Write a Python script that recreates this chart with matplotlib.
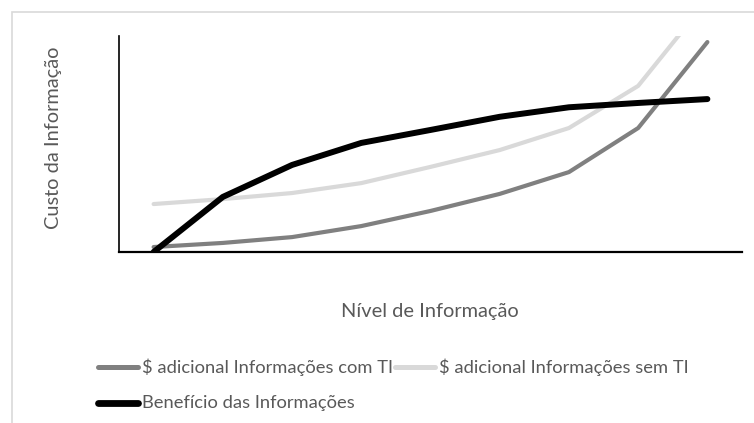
import matplotlib
matplotlib.use("Agg")
import matplotlib.pyplot as plt
from matplotlib.patches import Rectangle
from matplotlib.lines import Line2D

# Information level steps (category axis) and the three curves
levels = ["1", "2", "3", "4", "5", "6", "7", "8", "9"]
custo_com_ti = [0.23, 0.42, 0.69, 1.2, 1.9, 2.69, 3.7, 5.74, 9.72]
custo_sem_ti = [2.22, 2.45, 2.73, 3.19, 3.94, 4.72, 5.74, 7.69, 11.67]
beneficio = [0.0, 2.55, 4.03, 5.05, 5.65, 6.26, 6.7, 6.9, 7.08]

labels = ["$ adicional Informações com TI",
          "$ adicional Informações sem TI",
          "Benefício das Informações"]
colors = ["#808080", "#d9d9d9", "#000000"]
widths = [3.0, 3.0, 4.3]

plt.rcParams["font.family"] = ["Lato", "DejaVu Sans"]
text_color = "#595959"

W, H = 754, 423
fig = plt.figure(figsize=(W / 100, H / 100), dpi=100)


def fx(px):
    return px / W


def fy(py):
    return 1 - py / H


# light frame around the chart area
fig.patches.append(Rectangle((fx(12), -0.1), 1.2, fy(12) + 0.1,
                             transform=fig.transFigure, fill=False,
                             edgecolor="#d9d9d9", linewidth=1.2))

ax = fig.add_axes([fx(119), fy(252), fx(742 - 119), (252 - 36) / H])
x = list(range(len(levels)))

series = [custo_com_ti, custo_sem_ti, beneficio]
for vals, c, lw in zip(series, colors, widths):
    ax.plot(x, vals, color=c, lw=lw,
            solid_capstyle="round", solid_joinstyle="round")

ax.set_xlim(-0.5, len(levels) - 0.5)
ax.set_ylim(0, 10)
ax.set_xticks([])
ax.set_yticks([])
for side in ("top", "right"):
    ax.spines[side].set_visible(False)
ax.spines["left"].set_color("black")
ax.spines["bottom"].set_color("black")
ax.spines["left"].set_linewidth(1.2)
ax.spines["bottom"].set_linewidth(1.6)

fig.text(fx(54), fy(138), "Custo da Informação", rotation=90,
         ha="center", va="center", fontsize=14.4, color=text_color)
fig.text(fx(430), fy(311), "Nível de Informação",
         ha="center", va="center", fontsize=14.4, color=text_color)

# legend: two entries on the first row, one on the second
legend_slots = [(96, 367), (393, 367), (96, 403)]
for (lx, ly), lab, c, lw in zip(legend_slots, labels, colors, widths):
    fig.add_artist(Line2D([fx(lx + 2), fx(lx + 42)], [fy(ly), fy(ly)],
                          transform=fig.transFigure, color=c,
                          lw=lw + 0.6, solid_capstyle="round"))
    fig.text(fx(lx + 46), fy(ly), lab, ha="left", va="center",
             fontsize=13.2, color=text_color)

fig.savefig("out.png", dpi=100)
